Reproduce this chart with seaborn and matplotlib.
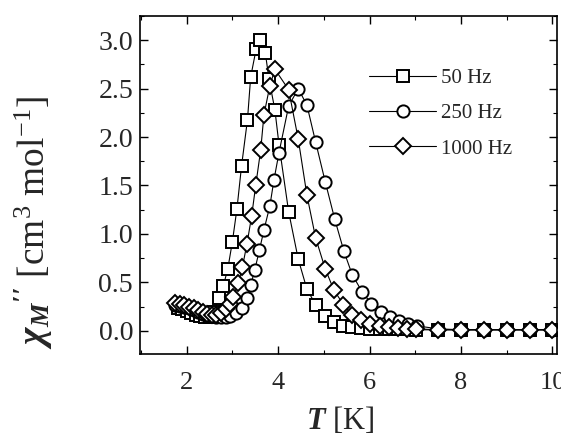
import matplotlib
matplotlib.use("Agg")
import matplotlib.pyplot as plt
import seaborn as sns
import pandas as pd
from matplotlib.ticker import MultipleLocator

# ---- data ----
t_50 = [1.8, 1.9, 2.0, 2.1, 2.2, 2.3, 2.4, 2.5, 2.6, 2.7, 2.8, 2.9, 3.0, 3.1, 3.2, 3.33, 3.4,
        3.52, 3.6, 3.72, 3.8, 3.93, 4.02, 4.23, 4.44, 4.63, 4.82, 5.02, 5.22, 5.42, 5.62, 5.82,
        6.02, 6.22, 6.42, 6.62, 6.82, 7.02, 7.5, 8.0, 8.5, 9.0, 9.5, 10.0]
chi_50 = [0.24, 0.22, 0.20, 0.18, 0.16, 0.15, 0.14, 0.14, 0.19, 0.34, 0.46, 0.64, 0.92, 1.26,
          1.70, 2.18, 2.62, 2.91, 3.00, 2.87, 2.60, 2.28, 1.92, 1.23, 0.74, 0.43, 0.27, 0.15,
          0.09, 0.05, 0.04, 0.03, 0.02, 0.02, 0.02, 0.02, 0.02, 0.01, 0.01, 0.01, 0.01, 0.01,
          0.01, 0.01]

t_250 = [1.75, 1.85, 1.95, 2.05, 2.15, 2.25, 2.35, 2.45, 2.55, 2.65, 2.75, 2.85, 2.95, 3.08,
         3.2, 3.31, 3.4, 3.49, 3.59, 3.69, 3.82, 3.91, 4.02, 4.23, 4.44, 4.63, 4.82, 5.03, 5.24,
         5.44, 5.62, 5.84, 6.04, 6.24, 6.44, 6.64, 6.84, 7.04, 7.5, 8.0, 8.5, 9.0, 9.5, 10.0]
chi_250 = [0.27, 0.26, 0.25, 0.23, 0.21, 0.19, 0.17, 0.16, 0.15, 0.14, 0.14, 0.14, 0.15, 0.18,
           0.23, 0.34, 0.47, 0.63, 0.83, 1.04, 1.29, 1.56, 1.84, 2.32, 2.50, 2.33, 1.95, 1.54,
           1.15, 0.82, 0.58, 0.40, 0.28, 0.19, 0.14, 0.10, 0.07, 0.05, 0.02, 0.01, 0.01, 0.01,
           0.01, 0.01]

t_1000 = [1.75, 1.85, 1.95, 2.05, 2.15, 2.25, 2.35, 2.45, 2.55, 2.65, 2.75, 2.85, 2.95, 3.02,
          3.13, 3.22, 3.32, 3.42, 3.51, 3.62, 3.69, 3.82, 3.93, 4.23, 4.44, 4.63, 4.82, 5.03,
          5.22, 5.43, 5.62, 5.82, 6.02, 6.22, 6.42, 6.62, 6.82, 7.02, 7.5, 8.0, 8.5, 9.0, 9.5, 10.0]
chi_1000 = [0.29, 0.28, 0.27, 0.25, 0.23, 0.21, 0.19, 0.17, 0.16, 0.16, 0.18, 0.22, 0.28, 0.35,
            0.49, 0.66, 0.90, 1.18, 1.50, 1.87, 2.23, 2.53, 2.70, 2.49, 1.98, 1.40, 0.96, 0.64,
            0.42, 0.27, 0.16, 0.11, 0.07, 0.05, 0.04, 0.03, 0.02, 0.02, 0.01, 0.01, 0.01, 0.01,
            0.01, 0.01]

labels = ["50 Hz", "250 Hz", "1000 Hz"]
markers = ["s", "o", "D"]
x_ticks = [2, 4, 6, 8, 10]
y_ticks = [0.0, 0.5, 1.0, 1.5, 2.0, 2.5, 3.0]

series = [(t_50, chi_50), (t_250, chi_250), (t_1000, chi_1000)]
df = pd.concat([pd.DataFrame({"T": t, "chi": c, "freq": lab})
                for (t, c), lab in zip(series, labels)], ignore_index=True)

# ---- style ----
sns.set_theme(style="ticks")
plt.rcParams["font.family"] = ["Liberation Serif", "DejaVu Serif"]
plt.rcParams["mathtext.fontset"] = "custom"
plt.rcParams["mathtext.rm"] = "Liberation Serif"
plt.rcParams["mathtext.it"] = "Liberation Serif:italic"
plt.rcParams["mathtext.bf"] = "Liberation Serif:bold:italic"

fig = plt.figure(figsize=(5.61, 4.45), dpi=100)
ax = fig.add_axes([0.2496, 0.2045, 0.7433, 0.7595])

msizes = {"s": 8.2, "o": 8.8, "D": 7.8}
for lab, mk in zip(labels, markers):
    sub = df[df["freq"] == lab]
    sns.lineplot(data=sub, x="T", y="chi", ax=ax, color="black", linewidth=0.8,
                 marker=mk, markersize=msizes[mk], markerfacecolor="white",
                 markeredgecolor="black", markeredgewidth=1.4, label=lab,
                 estimator=None, sort=False)

ax.set_xlim(0.98, 10.1)
ax.set_ylim(-0.24, 3.25)
ax.set_xticks(x_ticks)
ax.set_xticklabels([str(v) for v in x_ticks])
ax.set_yticks(y_ticks)
ax.set_yticklabels([f"{v:.1f}" for v in y_ticks])
ax.xaxis.set_minor_locator(MultipleLocator(1))
ax.yaxis.set_minor_locator(MultipleLocator(0.25))
ax.tick_params(which="both", direction="in", top=True, right=True, color="black")
ax.tick_params(which="major", length=6, width=1.0)
ax.tick_params(which="minor", length=3, width=0.8)
ax.tick_params(axis="x", which="major", labelsize=19, pad=13)
ax.tick_params(axis="y", which="major", labelsize=20, pad=5)
for s in ax.spines.values():
    s.set_color("black")
    s.set_linewidth(1.2)

ax.set_xlabel(r"$\mathbf{T}$ [K]", fontsize=22)
ax.set_ylabel(r"$\mathbf{\chi_M}{}^{\mathbf{\prime\prime}}$ [cm$^3$ mol$^{\mathregular{-1}}$]",
              fontsize=27)
ax.xaxis.set_label_coords(0.48, -0.15)
ax.yaxis.set_label_coords(-0.205, 0.39)

leg = ax.legend(loc="upper left", bbox_to_anchor=(0.505, 0.9), frameon=False,
                fontsize=15, handlelength=3.2, handletextpad=0.25, labelspacing=0.75)

fig.savefig("out.png", dpi=100)
